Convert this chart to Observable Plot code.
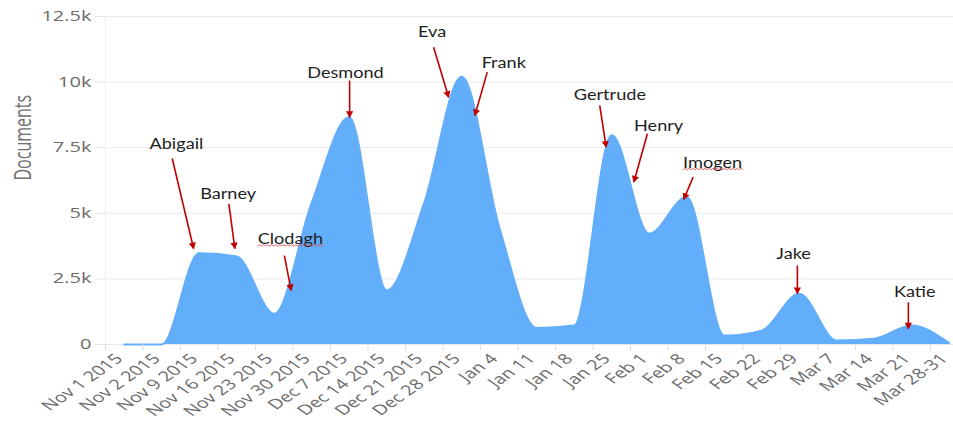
<!DOCTYPE html>
<html>
<head>
<meta charset="utf-8">
<script src="https://cdn.jsdelivr.net/npm/d3@7"></script>
<script src="https://cdn.jsdelivr.net/npm/@observablehq/plot@0.6"></script>
<style>
  html, body { margin: 0; padding: 0; background: #fff; }
  #chart { width: 953px; height: 427px; overflow: hidden; }
</style>
</head>
<body>
<div id="chart"></div>
<script>
// ---- data ----
const categories = ["Nov 1 2015","Nov 2 2015","Nov 9 2015","Nov 16 2015","Nov 23 2015","Nov 30 2015",
  "Dec 7 2015","Dec 14 2015","Dec 21 2015","Dec 28 2015","Jan 4","Jan 11","Jan 18","Jan 25",
  "Feb 1","Feb 8","Feb 15","Feb 22","Feb 29","Mar 7","Mar 14","Mar 21","Mar 28-31"];
const documents = [0, 0, 3480, 3350, 1170, 5400, 8660, 2060, 5400, 10200, 4470, 630, 720,
  7970, 4220, 5620, 340, 530, 1930, 150, 220, 720, 50];
const yTicks = [0, 2500, 5000, 7500, 10000, 12500];
const yTickLabels = ["0", "2.5k", "5k", "7.5k", "10k", "12.5k"];
const yTitle = "Documents";

// annotations (x in category index units, y in documents)
const annotationNames = ["Abigail","Barney","Clodagh","Desmond","Eva","Frank","Gertrude","Henry","Imogen","Jake","Katie"];
const labelX     = [1.39, 2.77, 4.43, 5.90, 8.21, 10.12, 12.95, 14.25, 15.69, 17.85, 21.08];
const labelY     = [7620, 5720, 3990, 10350, 11880, 10720, 9490, 8320, 6900, 3430, 1990];
const arrowFromX = [1.28, 2.79, 4.27, 6.01, 8.25, 9.68, 12.68, 13.95, 15.17, 17.95, 20.91];
const arrowFromY = [7090, 5360, 3390, 10060, 11330, 10380, 9110, 8030, 6380, 3010, 1610];
const arrowToX   = [1.85, 2.95, 4.45, 6.01, 8.65, 9.35, 12.85, 13.59, 14.92, 17.95, 20.91];
const arrowToY   = [3650, 3650, 2060, 8660, 9420, 8730, 7520, 6190, 5530, 1940, 600];
const misspelled = ["Clodagh", "Imogen"];

// ---- build tables ----
const series = categories.map((c, i) => ({i, c, v: documents[i]}));
const notes = annotationNames.map((n, i) => ({
  n, lx: labelX[i], ly: labelY[i],
  x1: arrowFromX[i], y1: arrowFromY[i], x2: arrowToX[i], y2: arrowToY[i]
}));
const bandEdges = d3.range(categories.length + 1).map(k => k - 0.5);

const blue = "#63aefa";
const red = "#c00000";

const svg = Plot.plot({
  width: 953,
  height: 427,
  marginLeft: 105,
  marginRight: 0,
  marginTop: 16,
  marginBottom: 83,
  style: {fontFamily: "'Open Sans', sans-serif", fontSize: "14px", background: "#fff", color: "#666"},
  x: {type: "linear", domain: [-0.5, categories.length - 0.5], range: [105, 967.5], label: null},
  y: {domain: [0, 12500], label: null},
  marks: [
    Plot.gridY(yTicks, {stroke: "#e9e9e9", strokeOpacity: 1}),
    Plot.ruleX([-0.5], {stroke: "#efefef"}),
    Plot.areaY(series, {x: "i", y: "v", curve: "monotone-x", fill: blue}),
    Plot.line(series, {x: "i", y: "v", curve: "monotone-x", stroke: blue, strokeWidth: 2}),
    Plot.axisY(yTicks, {tickFormat: d => yTickLabels[yTicks.indexOf(d)], tickSize: 10, tickPadding: 4,
      color: "#6b6b6b", stroke: "#e6e6e6", fontSize: 14, label: null}),
    Plot.axisX(bandEdges, {tickFormat: () => "", tickSize: 6, stroke: "#dcdcdc", label: null}),
    Plot.axisX(d3.range(categories.length), {tickFormat: d => categories[d], tickSize: 0, tickPadding: 12,
      dx: -5, tickRotate: -45, color: "#6b6b6b", fontSize: 14, label: null}),
    Plot.text([yTitle], {frameAnchor: "left", rotate: -90, dx: -82, fontSize: 16, fill: "#707070"}),
    Plot.link(notes, {x1: "x1", y1: "y1", x2: "x2", y2: "y2", stroke: red, strokeWidth: 1.6, markerEnd: "arrow"}),
    Plot.text(notes, {x: "lx", y: "ly", text: "n", fontFamily: "Lato, sans-serif", fontSize: 14.5, fill: "#1e1e1e"})
  ]
});

// filled arrowheads
svg.querySelectorAll("marker").forEach(m => {
  const color = m.getAttribute("stroke") || red;
  m.setAttribute("viewBox", "-7 -5 10 10");
  m.setAttribute("fill", color);
  m.setAttribute("stroke", "none");
  const p = m.querySelector("path");
  if (p) p.setAttribute("d", "M-5.6,-3.4L0.6,0L-5.6,3.4Z");
});

// horizontal stretch of text (the reference is a horizontally stretched screenshot)
svg.querySelectorAll("text").forEach(t => {
  const s = t.textContent;
  let sx = null;
  if (categories.includes(s) || yTickLabels.includes(s) || s === yTitle) sx = 1.43;
  else if (annotationNames.includes(s)) sx = 1.25;
  if (!sx) return;
  const tr = t.getAttribute("transform") || "";
  if (tr.startsWith("translate(")) {
    const k = tr.indexOf(")") + 1;
    t.setAttribute("transform", tr.slice(0, k) + ` scale(${sx},1)` + tr.slice(k));
  } else {
    const x = +t.getAttribute("x") || 0, y = +t.getAttribute("y") || 0;
    t.removeAttribute("x"); t.removeAttribute("y");
    t.setAttribute("transform", `translate(${x},${y}) scale(${sx},1) ${tr}`);
  }
});

document.getElementById("chart").appendChild(svg);

// spell-check squiggles under the misspelled annotation names
const svgRect = svg.getBoundingClientRect();
const squiggles = [];
svg.querySelectorAll("text").forEach(t => {
  if (!misspelled.includes(t.textContent)) return;
  const r = t.getBoundingClientRect();
  const x0 = r.left - svgRect.left, x1 = r.right - svgRect.left, yb = r.bottom - svgRect.top - 1;
  let d = `M${x0},${yb}`;
  for (let x = x0, k = 0; x < x1; x += 2, k++) d += `L${x + 2},${yb + (k % 2 ? 0 : -1.4)}`;
  squiggles.push(d);
});
d3.select(svg).append("g").selectAll("path").data(squiggles).join("path")
  .attr("d", d => d).attr("fill", "none").attr("stroke", "#e04040").attr("stroke-width", 0.8);
</script>
</body>
</html>
